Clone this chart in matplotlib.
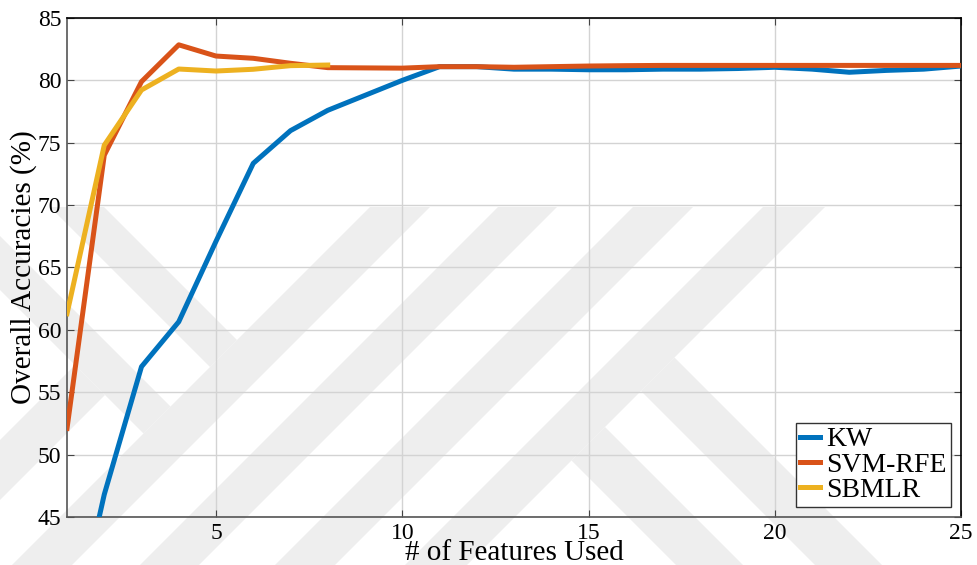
import matplotlib
matplotlib.use("Agg")
import matplotlib.pyplot as plt
from matplotlib.patches import Polygon

# ---- data ----
features = list(range(1, 26))
kw = [33.5, 46.8, 57.05, 60.65, 67.1, 73.35, 75.97, 77.6, 78.8, 80.0,
      81.1, 81.1, 80.9, 80.9, 80.85, 80.85, 80.9, 80.9, 80.95, 81.05,
      80.9, 80.65, 80.8, 80.9, 81.15]
svm_rfe = [52.1, 74.0, 79.9, 82.85, 81.95, 81.77, 81.37, 81.02, 81.0, 80.98,
           81.1, 81.1, 81.05, 81.1, 81.15, 81.18, 81.2, 81.2, 81.2, 81.2,
           81.2, 81.2, 81.2, 81.2, 81.2]
sbmlr_features = list(range(1, 9))
sbmlr = [61.3, 74.8, 79.23, 80.91, 80.75, 80.89, 81.18, 81.23]

series_names = ["KW", "SVM-RFE", "SBMLR"]
colors = ["#0072BD", "#D95319", "#EDB120"]
x_ticks = [5, 10, 15, 20, 25]
y_ticks = [45, 50, 55, 60, 65, 70, 75, 80, 85]

plt.rcParams['font.family'] = ['Liberation Serif', 'DejaVu Serif']

W, H = 977, 565
fig = plt.figure(figsize=(W / 100, H / 100), dpi=100)

# faint background watermark (approximate diagonal bands), pixel coords
def px(pts):
    return [(x / W, 1 - y / H) for x, y in pts]

wm_color = "#eeeeee"
bands = [
    [(370, 207), (430, 207), (72, 565), (12, 565)],          # "/" bands
    [(498, 207), (557, 207), (199, 565), (140, 565)],
    [(633, 207), (693, 207), (335, 565), (275, 565)],
    [(763, 207), (825, 207), (467, 565), (405, 565)],
    [(50, 207), (104, 207), (237, 340), (210, 367)],          # "\" arms left
    [(0, 236), (0, 290), (143.5, 433.5), (170.5, 406.5)],
    [(0, 440), (0, 500), (105, 395), (75, 365)],
    [(674.5, 357.5), (882, 565), (815, 565), (641, 391)],     # "\" arms right
    [(605, 427), (743, 565), (676, 565), (571.5, 460.5)],
]
for b in bands:
    fig.patches.append(Polygon(px(b), closed=True, transform=fig.transFigure,
                               facecolor=wm_color, edgecolor="none", zorder=-5))

ax = fig.add_axes([67 / W, 1 - 517 / H, (961 - 67) / W, (517 - 18) / H])
ax.set_facecolor("none")

lw = 3.6
ax.plot(features, kw, color=colors[0], lw=lw, label=series_names[0], zorder=3)
ax.plot(features, svm_rfe, color=colors[1], lw=lw, label=series_names[1], zorder=4)
ax.plot(sbmlr_features, sbmlr, color=colors[2], lw=lw, label=series_names[2], zorder=5)

ax.set_xlim(1, 25)
ax.set_ylim(45, 85)
ax.set_xticks(x_ticks)
ax.set_yticks(y_ticks)
ax.grid(True, color="#d3d3d3", lw=1.0)
ax.set_axisbelow(True)

ax.tick_params(direction="in", length=5, width=0.8, color="#444444",
               labelsize=17, top=True, right=True, pad=4)
ax.tick_params(axis="y", pad=4)

for side in ["left", "bottom"]:
    ax.spines[side].set_color("#555555")
for side in ["top", "right"]:
    ax.spines[side].set_color("#000000")
for s in ax.spines.values():
    s.set_linewidth(1.2)

ax.set_ylabel("Overall Accuracies (%)", fontsize=21)
ax.yaxis.set_label_coords((24 - 67) / (961 - 67), 0.5)
ax.set_xlabel("# of Features Used", fontsize=21)
ax.xaxis.set_label_coords(0.5, -(553 - 517) / (517 - 18))
ax.xaxis.label.set_va("center")
ax.yaxis.label.set_va("center")

leg = ax.legend(loc="lower right", fontsize=20, handlelength=0.7,
                handletextpad=0.25, borderpad=0.15, labelspacing=0.0,
                borderaxespad=0.35, fancybox=False, framealpha=1,
                edgecolor="#333333")
leg.get_frame().set_linewidth(1.0)

fig.savefig("out.png", dpi=100)
